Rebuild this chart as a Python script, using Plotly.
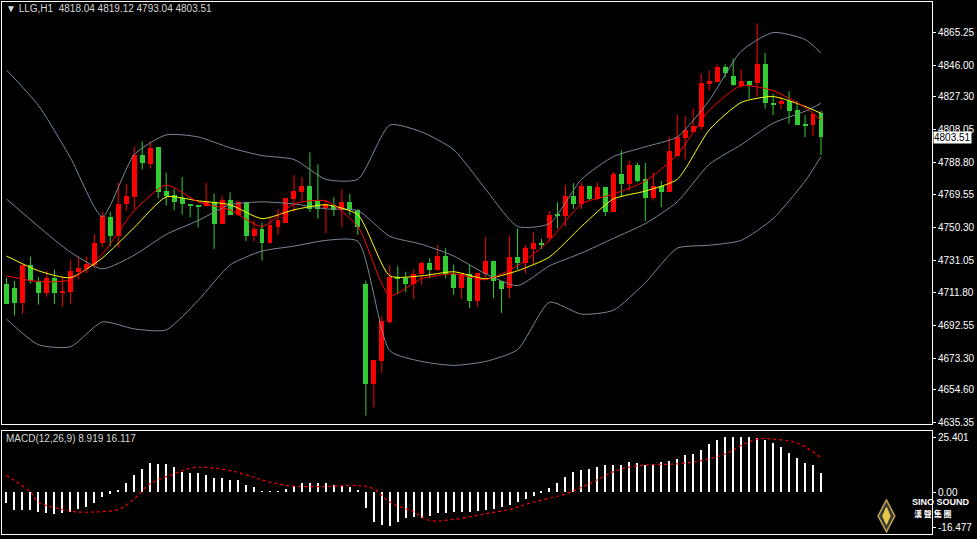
import plotly.graph_objects as go

W, H = 977, 539

opens = [4717.2,4714.9,4705.6,4727.9,4718.8,4711.4,4720.7,4712.0,4712.0,4724.2,4726.1,4728.4,4741.0,4756.5,4745.3,4764.0,4768.1,4793.3,4788.0,4797.5,4771.6,4769.5,4767.5,4764.2,4763.3,4762.9,4765.2,4752.2,4766.6,4757.9,4765.2,4745.3,4749.3,4741.0,4750.7,4753.2,4767.1,4771.4,4774.5,4766.2,4761.7,
         4763.7,4760.4,4765.2,4760.4,4717.2,4658.2,4671.3,4694.6,4721.1,4720.7,4717.2,4722.6,4729.4,4725.5,4733.7,4722.6,4714.5,4722.6,4706.8,4722.6,4730.8,4718.8,4714.9,4732.9,4729.4,4737.7,4740.6,4743.9,4757.8,4756.9,4769.1,4764.2,4774.9,4767.1,4774.3,4759.4,4781.6,4775.8,4786.9,4778.7,4767.7,
         4774.9,4771.0,4792.3,4802.9,4806.8,4809.3,4834.9,4835.8,4844.9,4839.7,4833.9,4836.8,4835.3,4846.9,4823.8,4822.9,4824.8,4819.8,4811.3,4810.7,4818.04]
highs = [4720.7,4718.8,4728.5,4733.1,4721.1,4724.6,4725.5,4721.1,4731.0,4733.3,4733.3,4746.4,4759.4,4759.4,4776.8,4776.0,4798.1,4801.0,4801.0,4797.5,4782.6,4772.9,4780.1,4764.2,4763.3,4776.8,4770.4,4769.1,4771.0,4766.2,4765.2,4754.5,4753.2,4756.5,4761.0,4767.7,4781.3,4780.1,4794.6,4787.5,4766.2,
         4768.1,4772.9,4770.0,4761.0,4719.0,4672.0,4698.1,4728.0,4727.5,4724.2,4725.5,4730.4,4732.3,4740.0,4738.1,4728.4,4722.6,4728.4,4723.6,4744.9,4730.8,4718.8,4745.5,4749.7,4740.0,4747.4,4743.5,4759.8,4765.2,4775.3,4776.4,4776.8,4774.9,4776.8,4774.3,4783.0,4795.8,4789.9,4788.8,4788.4,4782.6,
         4777.8,4803.9,4816.9,4815.9,4820.4,4841.1,4843.0,4846.5,4846.5,4849.9,4843.6,4836.8,4870.7,4853.3,4829.1,4827.5,4830.6,4824.8,4816.5,4817.8,4819.12]
lows = [4705.2,4698.5,4699.4,4717.2,4704.8,4709.5,4705.2,4703.7,4705.2,4719.7,4723.4,4726.5,4739.1,4739.1,4738.5,4760.0,4760.9,4784.5,4785.0,4767.5,4763.3,4760.4,4757.9,4756.3,4750.3,4762.9,4737.7,4752.2,4757.5,4757.1,4742.4,4742.0,4730.8,4741.0,4745.9,4753.2,4759.4,4765.6,4759.4,4755.5,4746.8,
        4757.1,4750.3,4757.5,4745.9,4639.4,4644.3,4664.6,4693.6,4711.0,4712.0,4708.1,4716.4,4720.3,4725.0,4720.3,4710.6,4708.1,4702.9,4703.3,4720.7,4708.7,4700.0,4708.7,4725.5,4723.2,4728.4,4737.7,4742.0,4749.7,4751.1,4761.3,4761.3,4766.2,4766.2,4757.1,4759.4,4768.1,4772.0,4776.8,4754.0,4766.2,
        4762.3,4771.0,4792.3,4790.4,4806.8,4807.8,4831.0,4835.8,4838.7,4833.9,4832.6,4826.2,4827.5,4820.4,4816.5,4820.0,4811.6,4810.7,4803.5,4804.3,4793.04]
closes = [4705.2,4705.6,4727.9,4718.8,4711.4,4720.7,4711.4,4713.0,4724.6,4726.5,4728.8,4741.0,4757.1,4745.3,4764.2,4769.0,4792.9,4788.4,4797.1,4771.4,4769.1,4765.2,4763.9,4762.9,4762.7,4765.2,4752.2,4766.6,4757.9,4765.2,4745.3,4749.3,4741.0,4751.7,4755.0,4767.7,4772.0,4774.9,4761.3,4761.3,4764.2,
          4760.4,4765.2,4760.4,4750.3,4658.2,4672.0,4695.2,4721.3,4720.3,4717.2,4723.0,4729.4,4725.5,4733.7,4722.6,4714.5,4722.6,4706.8,4723.6,4730.4,4718.8,4713.9,4732.9,4729.4,4738.1,4741.0,4740.3,4757.8,4757.1,4769.1,4764.2,4774.9,4767.1,4774.3,4759.4,4781.6,4775.8,4786.9,4777.8,4767.7,4774.5,
          4771.0,4795.2,4803.5,4807.8,4810.1,4835.3,4836.4,4844.9,4841.1,4834.5,4836.8,4834.5,4846.9,4823.6,4822.9,4824.8,4819.0,4810.7,4810.7,4817.4,4803.51]

line_idx = [0,4,8,12,16,20,24,28,32,36,40,44,48,52,56,60,64,68,72,76,80,84,88,92,96,100,102]
bb_upper = [4843.2,4822.3,4791.5,4756.7,4793.3,4804.9,4803.7,4797.3,4792.7,4790.4,4778.7,4778.7,4810.7,4806.6,4796.2,4772.9,4750.9,4752.6,4778.7,4792.1,4797.9,4803.7,4825.2,4854.2,4865.25,4861.2,4853.1]
bb_mid = [4767.1,4750.9,4735.8,4725.9,4734.0,4746.2,4754.4,4763.7,4765.4,4764.2,4761.3,4760.2,4745.1,4740.4,4733.5,4723.0,4716.0,4727.7,4735.2,4743.9,4752.6,4765.4,4787.5,4799.1,4811.8,4818.8,4823.5]
bb_lower = [4696.3,4681.2,4680.0,4694.6,4690.5,4689.9,4707.3,4728.2,4736.4,4739.3,4742.7,4742.2,4677.7,4671.3,4669.0,4671.3,4678.3,4706.2,4699.2,4701.5,4717.8,4738.1,4739.8,4742.7,4755.5,4777.6,4792.1]
ma_slow = [4733.5,4724.8,4720.7,4732.3,4750.3,4768.3,4766.0,4763.7,4755.5,4760.7,4763.7,4757.8,4721.8,4721.8,4724.2,4720.1,4724.8,4732.9,4750.9,4767.1,4771.8,4778.7,4807.8,4824.0,4827.5,4821.7,4817.6]
ma_fast = [4721.8,4718.4,4719.5,4734.6,4760.2,4775.3,4765.4,4760.7,4750.9,4764.2,4766.0,4750.9,4710.2,4720.1,4723.0,4719.5,4727.7,4742.7,4764.2,4770.0,4777.6,4793.2,4819.4,4833.9,4831.0,4821.1,4813.6]

macd_hist = [-5.4,-8.5,-8.5,-8.5,-9.2,-10,-10.5,-10,-9.2,-8,-6.9,-5.4,-2.3,-0.8,0.8,3.9,8,10.8,13.5,13,12.8,11.5,9.2,8.5,8.5,7.7,6.5,6.2,5.4,5.4,3.4,2.3,0.3,0.3,0.3,1.5,2.7,3.9,3.9,3.9,3.9,3.1,2.7,2.3,0.8,
             -7.4,-13.9,-15.4,-15.7,-13.9,-12.3,-11.5,-12.3,-11.1,-10,-10,-9.2,-9.2,-9.2,-8.8,-8.2,-8,-6.9,-6.2,-4.9,-3.4,-1.8,-0.3,2,3.9,6.9,9.2,10,10.8,11.5,12.6,12.6,12.6,13.9,13.5,12.6,13,13.9,14.2,15.1,16.9,17.7,19.3,22.3,23.9,25.4,25.4,25.4,25.2,25.0,23.9,22.8,20.8,18.2,15.7,13.5,12.6,8.919]
sig_idx = [0,3,4,7,9,11,14,16,18,21,23,25,28,31,33,36,40,44,46,48,51,53,56,60,63,66,70,73,75,77,80,84,87,90,92,94,96,99,102]
sig_val = [7.7,0,-4.6,-8,-9.2,-9.2,-8,-3.1,3.9,8.5,11.1,11.5,10,6.9,4.6,2.8,2.6,3.1,1.5,-4.6,-9.2,-13.1,-12.6,-10,-8,-4.6,-0.8,3.9,7.7,10.8,12.6,13.1,14.6,17.7,21.6,24.6,24.6,22.8,16.117]

price_ticks = [4865.25,4846.00,4827.30,4808.05,4788.80,4769.55,4750.30,4731.05,4711.80,4692.55,4673.30,4654.60,4635.35]
macd_ticks = [25.401, 0.0, -16.477]
macd_tick_text = ["25.401", "0.00", "-16.477"]

RED, GREEN = "#FF0000", "#32CD32"
n = len(opens)
xs = list(range(n))
up = [closes[i] >= opens[i] for i in range(n)]

fig = go.Figure()
for flag, col in [(True, RED), (False, GREEN)]:
    wx, wy = [], []
    bx, bb, bh = [], [], []
    for i in range(n):
        if up[i] != flag:
            continue
        wx += [i, i, None]
        wy += [lows[i], highs[i], None]
        bx.append(i)
        bb.append(min(opens[i], closes[i]))
        bh.append(max(abs(closes[i] - opens[i]), 0.6))
    fig.add_trace(go.Scatter(x=wx, y=wy, mode="lines", line=dict(color=col, width=1),
                             hoverinfo="skip", showlegend=False))
    fig.add_trace(go.Bar(x=bx, y=bh, base=bb, width=0.62, marker=dict(color=col, line=dict(width=0)),
                         showlegend=False))

for arr in (bb_upper, bb_mid, bb_lower):
    fig.add_trace(go.Scatter(x=line_idx, y=arr, mode="lines", line=dict(color="#778899", width=1, shape="spline", smoothing=0.6), showlegend=False))
fig.add_trace(go.Scatter(x=line_idx, y=ma_slow, mode="lines", line=dict(color="#FFFF00", width=1, shape="spline", smoothing=0.6), showlegend=False))
fig.add_trace(go.Scatter(x=line_idx, y=ma_fast, mode="lines", line=dict(color=RED, width=1, shape="spline", smoothing=0.6), showlegend=False))

fig.add_trace(go.Bar(x=xs, y=macd_hist, width=0.13, marker=dict(color="#FFFFFF", line=dict(width=0)),
                     xaxis="x2", yaxis="y2", showlegend=False))
fig.add_trace(go.Scatter(x=sig_idx, y=sig_val, mode="lines", line=dict(color=RED, width=1.2, dash="dot", shape="spline"),
                         xaxis="x2", yaxis="y2", showlegend=False))

xr = [-0.56, 115.9]
axfont = dict(family="Liberation Sans, Arial, sans-serif", size=10, color="#FFFFFF")
fig.update_layout(
    width=W, height=H, paper_bgcolor="#000000", plot_bgcolor="#000000",
    margin=dict(l=1, r=45, t=1, b=2), barmode="overlay", bargap=0,
    font=axfont,
    xaxis=dict(range=xr, domain=[0, 1], showgrid=False, zeroline=False, showticklabels=False,
               showline=True, linecolor="#FFFFFF", mirror=True, anchor="y"),
    yaxis=dict(range=[4634.2, 4883.25], domain=[0.206, 1], side="right", showgrid=False, zeroline=False,
               tickvals=price_ticks, ticktext=[f"{v:.2f}" for v in price_ticks], ticks="outside", ticklen=3,
               tickcolor="#FFFFFF", showline=True, linecolor="#FFFFFF", mirror=True, tickfont=axfont),
    xaxis2=dict(range=xr, domain=[0, 1], showgrid=False, zeroline=False, showticklabels=False,
                showline=True, linecolor="#FFFFFF", mirror=True, anchor="y2"),
    yaxis2=dict(range=[-19.4, 28.2], domain=[0.0, 0.193], side="right", showgrid=False, zeroline=False,
                tickvals=macd_ticks, ticktext=macd_tick_text, ticks="outside", ticklen=3, tickcolor="#FFFFFF",
                showline=True, linecolor="#FFFFFF", mirror=True, tickfont=axfont, anchor="x2"),
)

lblfont = dict(family="Liberation Sans, Arial, sans-serif", size=10, color="#D8D8D8")
fig.add_annotation(xref="paper", yref="paper", x=0.0, y=1.0, xanchor="left", yanchor="top", showarrow=False,
                   xshift=2, yshift=1, text="▼ LLG,H1  4818.04 4819.12 4793.04 4803.51", font=lblfont)
fig.add_annotation(xref="paper", yref="paper", x=0.0, y=0.193, xanchor="left", yanchor="top", showarrow=False,
                   xshift=2, yshift=0, text="MACD(12,26,9) 8.919 16.117", font=lblfont)
fig.add_annotation(xref="paper", y=closes[-1], yref="y", x=1.0, xanchor="left", showarrow=False, xshift=1,
                   text="4803.51", bgcolor="#FFFFFF", font=dict(family="Liberation Sans, Arial, sans-serif", size=10, color="#000000"), borderpad=0)
fig.add_shape(type="path", xref="paper", yref="paper",
              path="M 0.951 0.064 L 0.960 0.034 L 0.951 0.004 L 0.942 0.034 Z",
              line=dict(color="#BFA24A", width=1.5), fillcolor="#3a3a3a")
fig.add_shape(type="path", xref="paper", yref="paper",
              path="M 0.951 0.050 L 0.955 0.034 L 0.951 0.018 L 0.947 0.034 Z",
              line=dict(color="#E6C84A", width=1), fillcolor="#E6C84A")
fig.add_annotation(xref="paper", yref="paper", x=0.976, y=0.047, xanchor="left", showarrow=False,
                   text="<b>SINO SOUND</b>", font=dict(family="Liberation Sans, Arial, sans-serif", size=9, color="#FFFFFF"))
fig.add_annotation(xref="paper", yref="paper", x=0.978, y=0.024, xanchor="left", showarrow=False,
                   text="<b>漢 聲 集 團</b>", font=dict(size=8, color="#FFFFFF", family="Noto Sans CJK TC"))

fig.write_html("out.html", config={"displayModeBar": False},
               post_script="document.body.style.margin='0';document.body.style.overflow='hidden';")
